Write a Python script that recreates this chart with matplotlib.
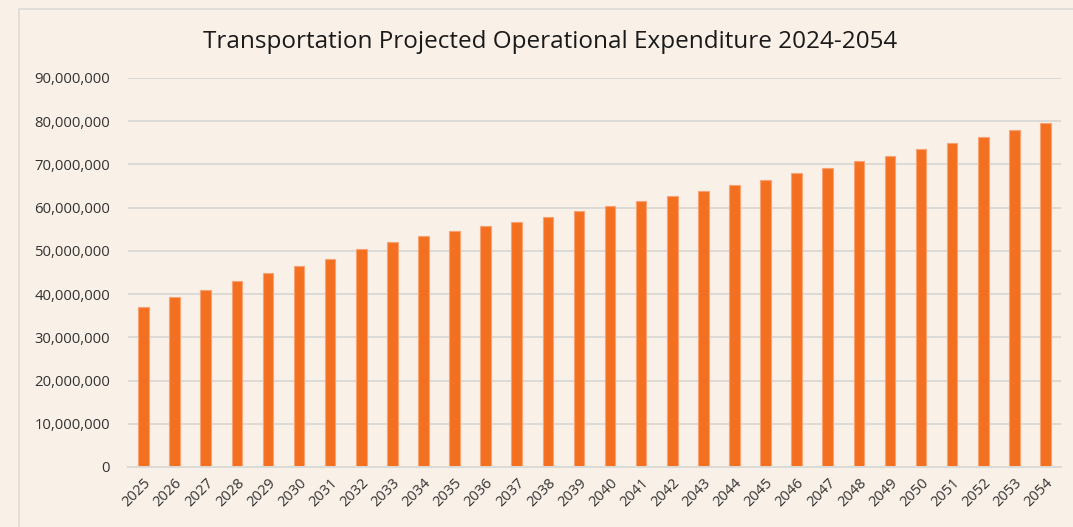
import matplotlib
matplotlib.use("Agg")
import matplotlib.pyplot as plt
from matplotlib.ticker import FuncFormatter
from matplotlib.patches import Rectangle

years = [str(y) for y in range(2025, 2055)]
expenditure = [
    37.0, 39.3, 41.0, 43.1, 44.95, 46.4, 48.05, 50.5, 52.0, 53.45,
    54.5, 55.7, 56.75, 57.8, 59.15, 60.3, 61.5, 62.6, 63.9, 65.2,
    66.5, 67.95, 69.2, 70.7, 71.95, 73.5, 74.95, 76.4, 78.05, 79.5,
]
expenditure = [v * 1_000_000 for v in expenditure]
title = "Transportation Projected Operational Expenditure 2024-2054"

BG = "#F9F0E7"
BAR = "#F37021"
GRID = "#DCDAD7"
TXT = "#333333"

plt.rcParams["font.family"] = ["Open Sans", "DejaVu Sans"]

W, H = 1073, 527
fig = plt.figure(figsize=(W / 100, H / 100), dpi=100, facecolor=BG)

# outer frame (extends past right/bottom)
fig.patches.append(Rectangle((19 / W, -0.1), 1.2, 1 - 9 / H + 0.1,
                             transform=fig.transFigure, fill=False,
                             edgecolor="#DDDBD8", linewidth=1.2))

ax = fig.add_axes([128 / W, (H - 467) / H, (1061 - 128) / W, (467 - 78) / H])
ax.set_facecolor(BG)

x = range(len(years))
ax.bar(x, expenditure, width=0.34, color=BAR, edgecolor="#F9A274",
       linewidth=0.8, zorder=3)

ax.set_xlim(-0.5, len(years) - 0.5)
ax.set_ylim(0, 90_000_000)
ax.set_yticks(range(0, 90_000_001, 10_000_000))
ax.yaxis.set_major_formatter(FuncFormatter(lambda v, p: f"{int(v):,}"))
ax.grid(axis="y", color=GRID, linewidth=1.4, zorder=0)
for s in ["top", "right", "left"]:
    ax.spines[s].set_visible(False)
ax.spines["bottom"].set_color(GRID)
ax.spines["bottom"].set_linewidth(1.4)
ax.spines["bottom"].set_zorder(4)

ax.set_xticks(list(x))
ax.set_xticklabels(years, rotation=45, ha="right", rotation_mode="anchor",
                   fontsize=10.5, color=TXT)
ax.tick_params(axis="x", length=0, pad=6)
ax.tick_params(axis="y", length=0, pad=13, labelsize=10.7, labelcolor=TXT)

fig.text(550 / W, 1 - 42 / H, title, ha="center", va="center",
         fontsize=17.5, color="#1A1A1A")

fig.savefig("out.png", dpi=100, facecolor=BG)
